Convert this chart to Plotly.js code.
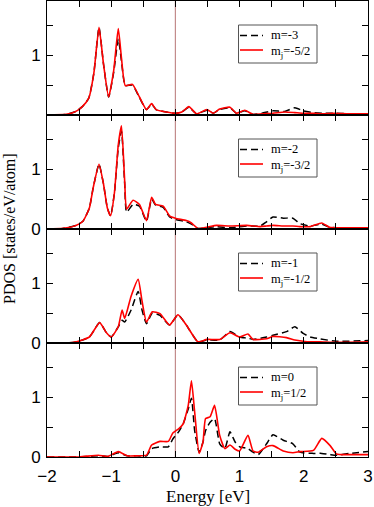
<!DOCTYPE html>
<html><head><meta charset="utf-8">
<script src="https://cdn.plot.ly/plotly-3.0.1.min.js"></script>
<style>html,body{margin:0;padding:0;background:#fff}#chart{width:374px;height:507px}</style>
</head><body><div id="chart"></div>
<script>
// Panel 1: m=-3 / mj=-5/2
const E1 = [-2,-1.7,-1.55,-1.45,-1.35,-1.27,-1.19,-1.12,-1.04,-0.96,-0.89,-0.84,-0.78,-0.67,-0.56,-0.45,-0.37,-0.30,-0.14,0,0.1,0.21,0.33,0.49,0.59,0.69,0.85,0.95,1.08,1.21,1.35,1.52,1.7,1.86,1.99,2.15,2.3,2.46,2.7,3];
const red1 = [0,0.01,0.06,0.14,0.28,0.7,1.46,0.85,0.30,0.75,1.44,0.95,0.49,0.51,0.30,0.09,0.19,0.09,0.05,0.03,0.05,0.14,0.02,0.09,0.03,0.10,0.13,0.03,0.08,0.01,0.02,0.03,0.05,0.04,0.03,0.03,0.02,0.03,0.02,0.02];
const blk1 = [0,0.01,0.06,0.14,0.28,0.7,1.46,0.85,0.30,0.72,1.27,0.90,0.49,0.50,0.29,0.09,0.18,0.09,0.05,0.03,0.05,0.13,0.02,0.08,0.03,0.09,0.12,0.03,0.07,0.01,0.03,0.07,0.06,0.12,0.07,0.04,0.03,0.03,0.02,0.02];
// Panel 2: m=-2 / mj=-3/2
const E2 = [-2,-1.75,-1.55,-1.44,-1.34,-1.28,-1.19,-1.12,-1.06,-1.01,-0.95,-0.89,-0.84,-0.79,-0.76,-0.66,-0.56,-0.45,-0.37,-0.31,-0.19,-0.09,0,0.17,0.25,0.35,0.49,0.64,0.85,1.11,1.32,1.42,1.52,1.68,1.83,1.94,2.1,2.28,2.4,2.6,3];
const red2 = [0,0.01,0.06,0.13,0.35,0.69,1.08,0.75,0.35,0.22,0.6,1.4,1.72,0.8,0.33,0.48,0.41,0.14,0.53,0.41,0.38,0.22,0.18,0.14,0.10,0.01,0.03,0.06,0.05,0.06,0.04,0.05,0.06,0.05,0.05,0.04,0.04,0.10,0.03,0.02,0.02];
const blk2 = [0,0.01,0.06,0.13,0.35,0.69,1.08,0.75,0.35,0.22,0.6,1.35,1.63,0.75,0.28,0.41,0.38,0.13,0.50,0.40,0.36,0.20,0.16,0.12,0.08,0.01,0.02,0.04,0.02,0.05,0.05,0.12,0.20,0.18,0.18,0.09,0.05,0.08,0.03,0.02,0.02];
// Panel 3: m=-1 / mj=-1/2
const E3 = [-2,-1.7,-1.54,-1.34,-1.18,-1.08,-1.0,-0.89,-0.83,-0.79,-0.69,-0.58,-0.52,-0.45,-0.36,-0.24,-0.09,0.04,0.17,0.35,0.49,0.69,0.85,1.0,1.13,1.21,1.42,1.52,1.73,1.86,1.99,2.1,2.25,2.5,3];
const red3 = [0,0,0.02,0.1,0.34,0.18,0.1,0.27,0.55,0.41,0.78,1.06,0.7,0.35,0.52,0.49,0.30,0.47,0.30,0.02,0.06,0.06,0.17,0.10,0.15,0.06,0.07,0.11,0.09,0.05,0.03,0.02,0.02,0.01,0.02];
const blk3 = [0,0,0.02,0.1,0.34,0.18,0.1,0.27,0.38,0.35,0.55,0.86,0.55,0.32,0.50,0.46,0.30,0.47,0.30,0.02,0.05,0.05,0.19,0.10,0.08,0.06,0.10,0.13,0.19,0.27,0.16,0.10,0.07,0.03,0.04];
// Panel 4: m=0 / mj=1/2
const E4 = [-2,-1.5,-1.2,-1.05,-0.89,-0.75,-0.6,-0.45,-0.37,-0.24,-0.11,-0.04,0.05,0.12,0.2,0.25,0.30,0.37,0.43,0.47,0.54,0.61,0.69,0.77,0.85,0.93,1.0,1.13,1.21,1.29,1.42,1.52,1.68,1.83,1.94,2.15,2.28,2.41,2.51,2.72,3];
const red4 = [0,0,0.03,0.01,0.09,0.02,0.02,0.03,0.2,0.26,0.26,0.40,0.47,0.55,0.86,1.27,0.75,0.06,0.25,0.64,0.67,0.86,0.36,0.14,0.2,0.13,0.10,0.36,0.10,0.08,0.17,0.19,0.10,0.07,0.09,0.11,0.31,0.19,0.05,0.04,0.04];
const blk4 = [0,0,0.02,0.01,0.07,0.02,0.02,0.02,0.14,0.17,0.17,0.30,0.42,0.55,0.80,0.98,0.44,0.08,0.25,0.44,0.58,0.64,0.22,0.14,0.42,0.25,0.17,0.14,0.08,0.04,0.22,0.37,0.28,0.22,0.08,0.06,0.06,0.04,0.03,0.06,0.09];

const mLabels = ['m=-3','m=-2','m=-1','m=0'];
const mjLabels = ['m<sub>j</sub>=-5/2','m<sub>j</sub>=-3/2','m<sub>j</sub>=-1/2','m<sub>j</sub>=1/2'];
const xTicks = [-2,-1,0,1,2,3];

const Es = [E1,E2,E3,E4], reds=[red1,red2,red3,red4], blks=[blk1,blk2,blk3,blk4];
const sfx = ['','2','3','4'];
const DASH = '7px,4px';
const traces = [];
for (let i=0;i<4;i++){
  traces.push({x:Es[i], y:blks[i], type:'scatter', mode:'lines', name:mLabels[i], showlegend:false,
    xaxis:'x'+sfx[i], yaxis:'y'+sfx[i],
    line:{color:'#000', width:1.5, dash:DASH, shape:'spline', smoothing:0.5}});
  traces.push({x:Es[i], y:reds[i], type:'scatter', mode:'lines', name:mjLabels[i], showlegend:false,
    xaxis:'x'+sfx[i], yaxis:'y'+sfx[i],
    line:{color:'#ff0000', width:1.6, shape:'spline', smoothing:0.5}});
}

// plot area in pixels: left 47, right 368, top 1, bottom 457
const L=47, W=321, B=457, H=456;
const px = v => (v-L)/W, py = v => (B-v)/H;
const serif = 'Liberation Serif, Times New Roman, serif';
const shapes = [{type:'line', xref:'x4', yref:'paper', x0:0, x1:0, y0:0, y1:1, layer:'below',
    line:{color:'rgb(195,140,140)', width:1.2}}];
const annotations = [
  {text:'PDOS [states/eV/atom]', xref:'paper', yref:'paper', x:px(9), y:0.5, textangle:-90,
   showarrow:false, xanchor:'center', yanchor:'middle', font:{family:serif, size:16}},
  {text:'Energy [eV]', xref:'paper', yref:'paper', x:0.5, y:py(496), showarrow:false,
   xanchor:'center', yanchor:'middle', font:{family:serif, size:17}}
];
// hand-drawn legend boxes, one per panel
const panelTops = [1,115,229,343];
for (let i=0;i<4;i++){
  const t = panelTops[i]+24;
  shapes.push({type:'rect', xref:'paper', yref:'paper', x0:px(238.5), x1:px(317), y0:py(t), y1:py(t+38),
    line:{color:'#555', width:1}, fillcolor:'#fff', layer:'above'});
  shapes.push({type:'line', xref:'paper', yref:'paper', x0:px(240), x1:px(263), y0:py(t+10.5), y1:py(t+10.5),
    line:{color:'#000', width:1.5, dash:DASH}, layer:'above'});
  shapes.push({type:'line', xref:'paper', yref:'paper', x0:px(240), x1:px(263), y0:py(t+25), y1:py(t+25),
    line:{color:'#ff0000', width:1.6}, layer:'above'});
  annotations.push({text:mLabels[i], xref:'paper', yref:'paper', x:px(270), y:py(t+18), showarrow:false,
    xanchor:'left', yanchor:'bottom', borderpad:0, font:{family:serif, size:12.5}});
  annotations.push({text:mjLabels[i], xref:'paper', yref:'paper', x:px(270), y:py(t+18), showarrow:false,
    xanchor:'left', yanchor:'top', borderpad:0, font:{family:serif, size:12.5}});
}

const layout = {width:374, height:507, margin:{l:47,r:6,t:1,b:50},
  paper_bgcolor:'#fff', plot_bgcolor:'#fff', showlegend:false,
  font:{family:'Liberation Sans, Arial, sans-serif', size:17, color:'#000'},
  shapes:shapes, annotations:annotations};
const doms = [[0.75,1],[0.5,0.75],[0.25,0.5],[0,0.25]];
for (let i=0;i<4;i++){
  layout['xaxis'+sfx[i]] = {anchor:'y'+sfx[i], range:[-2,3], tickvals:xTicks, showticklabels:i===3,
    ticks:'inside', ticklen:6, tickcolor:'#000', showline:true, linecolor:'#000', linewidth:1, mirror:'ticks',
    showgrid:false, zeroline:false, minor:{dtick:0.5, tick0:0, ticks:'inside', ticklen:6, tickcolor:'#000', showgrid:false},
    ticklabelstandoff:4, fixedrange:true};
  layout['yaxis'+sfx[i]] = {anchor:'x'+sfx[i], domain:doms[i], range:[0,1.9],
    tickvals: i===0 ? [1] : [0,1], ticks:'inside', ticklen:6, tickcolor:'#000', showline:true, linecolor:'#000', linewidth:1,
    mirror:'ticks', showgrid:false, zeroline:false,
    minor:{tickvals:[0.5,1.5], ticks:'inside', ticklen:6, tickcolor:'#000', showgrid:false}, ticklabelstandoff:2, fixedrange:true};
}
Plotly.newPlot('chart', traces, layout, {staticPlot:true, displayModeBar:false});
</script></body></html>
